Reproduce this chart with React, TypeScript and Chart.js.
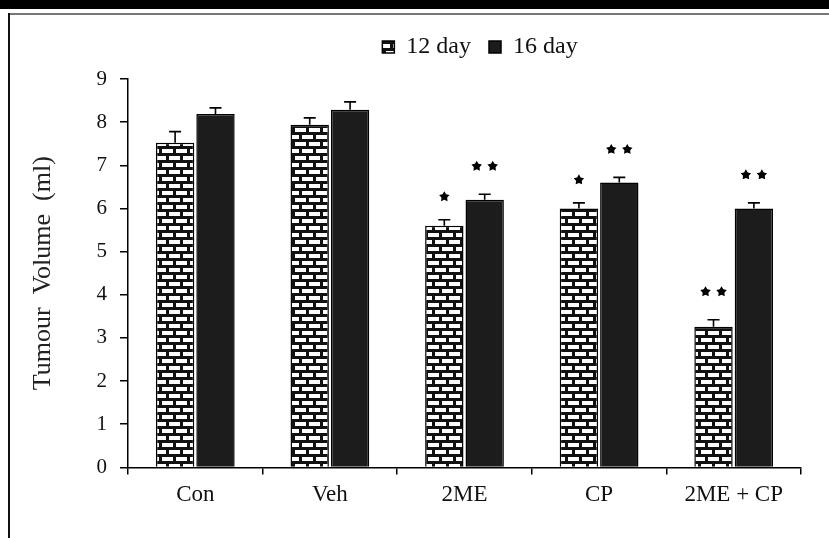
import React, { useEffect, useRef } from "react";
import { Chart, registerables } from "chart.js";

Chart.register(...registerables);

const categories = ["Con", "Veh", "2ME", "CP", "2ME + CP"];
const seriesNames = ["12 day", "16 day"];
const values12 = [7.52, 7.94, 5.6, 6.0, 3.26];
const values16 = [8.19, 8.29, 6.2, 6.6, 6.0];
const errors12 = [0.26, 0.16, 0.14, 0.13, 0.16];
const errors16 = [0.14, 0.18, 0.13, 0.12, 0.13];
const stars12 = [0, 0, 1, 1, 2];
const stars16 = [0, 0, 2, 2, 2];
const yTicks = [0, 1, 2, 3, 4, 5, 6, 7, 8, 9];

const FONT = "'Liberation Serif', 'Times New Roman', serif";

function makeBrickPattern(): CanvasPattern | string {
  const c = document.createElement("canvas");
  c.width = 14;
  c.height = 14;
  const g = c.getContext("2d");
  if (!g) return "#888";
  g.fillStyle = "#111";
  g.fillRect(0, 0, 14, 14);
  g.fillStyle = "#fff";
  g.fillRect(1, 2, 11, 4);
  g.fillRect(8, 9, 6, 4);
  g.fillRect(0, 9, 5, 4);
  const p = g.createPattern(c, "repeat");
  return p || "#888";
}

function drawStar(ctx: CanvasRenderingContext2D, cx: number, cy: number, r: number) {
  ctx.beginPath();
  for (let i = 0; i < 10; i++) {
    const rad = i % 2 === 0 ? r : r * 0.55;
    const a = -Math.PI / 2 + (i * Math.PI) / 5;
    const x = cx + rad * Math.cos(a);
    const y = cy + rad * Math.sin(a);
    if (i === 0) ctx.moveTo(x, y);
    else ctx.lineTo(x, y);
  }
  ctx.closePath();
  ctx.fill();
}

const framePlugin = {
  id: "frame",
  beforeDraw(chart: any) {
    const ctx = chart.ctx;
    ctx.save();
    ctx.fillStyle = "#fff";
    ctx.fillRect(0, 0, chart.width, chart.height);
    ctx.fillStyle = "#000";
    ctx.fillRect(0, 0, chart.width, 9);
    ctx.fillStyle = "#777";
    ctx.fillRect(8, 13, chart.width - 8, 2);
    ctx.fillStyle = "#111";
    ctx.fillRect(8, 13, 2, chart.height - 13);
    ctx.restore();
  },
};

const legendShiftPlugin = {
  id: "legendShift",
  afterLayout(chart: any) {
    const l = chart.legend;
    if (!l) return;
    const dx = 480 - (l.left + l.right) / 2;
    const dy = -10;
    l.left += dx;
    l.right += dx;
    l.top += dy;
    l.bottom += dy;
    if (l.legendHitBoxes) {
      l.legendHitBoxes.forEach((b: any) => {
        b.left += dx;
        b.top += dy;
      });
    }
  },
};

const errorStarPlugin = {
  id: "errStars",
  afterDatasetsDraw(chart: any) {
    const ctx = chart.ctx;
    const yScale = chart.scales.y;
    const errs = [errors12, errors16];
    const vals = [values12, values16];
    const stars = [stars12, stars16];
    ctx.save();
    ctx.strokeStyle = "#000";
    ctx.fillStyle = "#000";
    ctx.lineWidth = 1.6;
    for (let d = 0; d < 2; d++) {
      const meta = chart.getDatasetMeta(d);
      meta.data.forEach((bar: any, i: number) => {
        const x = bar.x;
        const y0 = yScale.getPixelForValue(vals[d][i]);
        const y1 = yScale.getPixelForValue(vals[d][i] + errs[d][i]);
        ctx.beginPath();
        ctx.moveTo(x, y0);
        ctx.lineTo(x, y1);
        ctx.moveTo(x - 6, y1);
        ctx.lineTo(x + 6, y1);
        ctx.stroke();
        const n = stars[d][i];
        const sy = y1 - (n === 2 ? 28 : 23);
        if (n === 1) drawStar(ctx, x, sy, 5.5);
        if (n === 2) {
          drawStar(ctx, x - 8, sy, 5.5);
          drawStar(ctx, x + 8, sy, 5.5);
        }
      });
    }
    ctx.restore();
  },
};

export default function App() {
  const ref = useRef<HTMLCanvasElement | null>(null);
  useEffect(() => {
    if (!ref.current) return;
    const brick = makeBrickPattern();
    const chart = new Chart(ref.current, {
      type: "bar",
      data: {
        labels: categories,
        datasets: [
          {
            label: seriesNames[0],
            data: values12,
            backgroundColor: brick as any,
            borderColor: "#000",
            borderWidth: 1.5,
            barPercentage: 0.95,
            categoryPercentage: 0.6,
          },
          {
            label: seriesNames[1],
            data: values16,
            backgroundColor: "#1c1c1c",
            borderColor: "#000",
            borderWidth: 1.5,
            barPercentage: 0.95,
            categoryPercentage: 0.6,
          },
        ],
      },
      options: {
        animation: false,
        responsive: true,
        maintainAspectRatio: false,
        layout: { padding: { left: 20, right: 28, top: 27, bottom: 22 } },
        plugins: {
          tooltip: { enabled: false },
          legend: {
            display: true,
            position: "top",
            labels: {
              color: "#111",
              font: { family: FONT, size: 24 },
              boxWidth: 12,
              boxHeight: 12,
              padding: 18,
            },
          },
        },
        scales: {
          x: {
            grid: {
              display: true,
              drawOnChartArea: false,
              drawTicks: true,
              tickLength: 7,
              color: "#000",
              lineWidth: 1.5,
            },
            border: { display: true, color: "#000", width: 1.5 },
            ticks: {
              color: "#111",
              font: { family: FONT, size: 23 },
              padding: 7,
            },
          },
          y: {
            min: 0,
            max: 9,
            afterFit: (s: any) => {
              s.width = 108;
            },
            afterBuildTicks: (s: any) => {
              s.ticks = yTicks.map((v) => ({ value: v }));
            },
            grid: {
              display: true,
              drawOnChartArea: false,
              drawTicks: true,
              tickLength: 8,
              color: "#000",
              lineWidth: 1.5,
            },
            border: { display: true, color: "#000", width: 1.5 },
            ticks: {
              color: "#111",
              font: { family: FONT, size: 21 },
              padding: 13,
            },
            title: {
              display: true,
              text: "Tumour  Volume  (ml)",
              color: "#222",
              font: { family: FONT, size: 26 },
              padding: { top: 8, bottom: 0 },
            },
          },
        },
      },
      plugins: [framePlugin, legendShiftPlugin, errorStarPlugin],
    });
    return () => chart.destroy();
  }, []);
  return (
    <div style={{ position: "absolute", left: 0, top: 0, width: 829, height: 538 }}>
      <canvas ref={ref} />
    </div>
  );
}
